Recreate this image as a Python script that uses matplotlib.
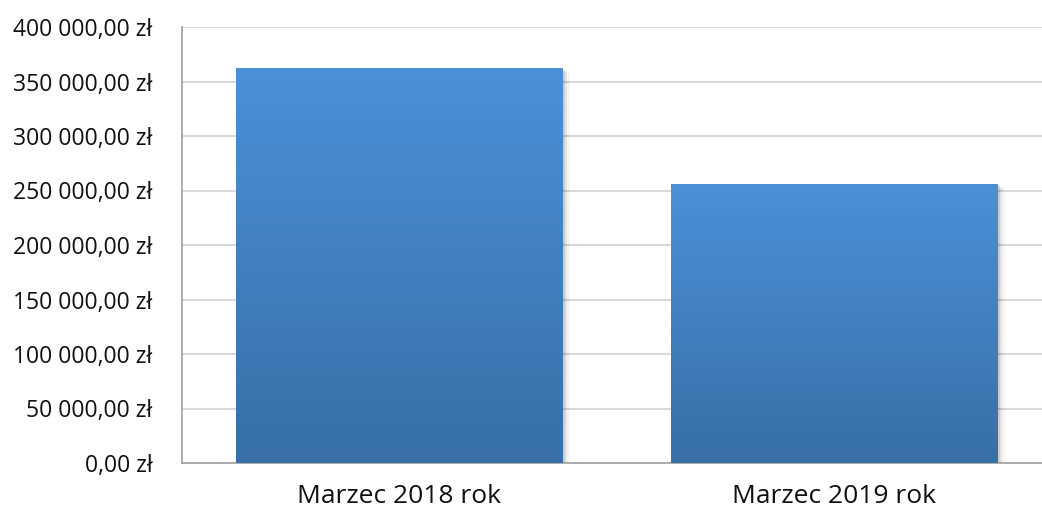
import matplotlib
matplotlib.use("Agg")
import matplotlib.pyplot as plt
import numpy as np
from matplotlib.ticker import FuncFormatter, MultipleLocator
from matplotlib.patches import Rectangle
from matplotlib.colors import LinearSegmentedColormap

categories = ["Marzec 2018 rok", "Marzec 2019 rok"]
values = [362000, 256000]
y_max = 400000
y_step = 50000

plt.rcParams['font.family'] = ['Open Sans', 'DejaVu Sans']

fig = plt.figure(figsize=(10.42, 5.07), dpi=100)
ax = fig.add_axes([181.5/1042, 1-463/507, 870/1042, 436/507])

cmap = LinearSegmentedColormap.from_list("g", ["#386fa7", "#4a91d8"])
x = np.arange(len(categories))
width = 0.75
bars = ax.bar(x, values, width=width, color="none", zorder=3)
grad = np.linspace(0, 1, 256).reshape(-1, 1)
for b in bars:
    x0, y0, w, h = b.get_x(), b.get_y(), b.get_width(), b.get_height()
    # soft shadow
    for i, a in enumerate([0.10, 0.07, 0.04]):
        d = 0.006 * (i + 1)
        sh = Rectangle((x0 + d, y0 - 1200 * (i + 1)), w, h, facecolor="black",
                       alpha=a, edgecolor="none", zorder=2)
        ax.add_patch(sh)
    im = ax.imshow(grad, extent=[x0, x0 + w, y0, y0 + h], origin="lower",
                   cmap=cmap, aspect="auto", zorder=3)
    clip = Rectangle((x0, y0), w, h, transform=ax.transData)
    im.set_clip_path(clip)

ax.set_xlim(-0.5, len(categories) - 0.5)
ax.set_ylim(0, y_max)
ax.yaxis.set_major_locator(MultipleLocator(y_step))

def fmt(v, pos):
    s = f"{v:,.2f}".replace(",", " ").replace(".", ",")
    return s + " zł"

ax.yaxis.set_major_formatter(FuncFormatter(fmt))
ax.set_xticks(x)
ax.set_xticklabels(categories, fontsize=19, color="#111111")
ax.tick_params(axis="y", labelsize=16.5, colors="#111111", length=0, pad=21)
ax.tick_params(axis="x", length=0, pad=15)

ax.grid(axis="y", color="#d9d9d9", linewidth=1.5, zorder=0)
ax.set_axisbelow(True)
for s in ["top", "right"]:
    ax.spines[s].set_visible(False)
ax.spines["left"].set_color("#a6a6a6")
ax.spines["left"].set_linewidth(1.3)
ax.spines["bottom"].set_color("#a6a6a6")
ax.spines["bottom"].set_linewidth(1.3)

fig.savefig("out.png", dpi=100)
